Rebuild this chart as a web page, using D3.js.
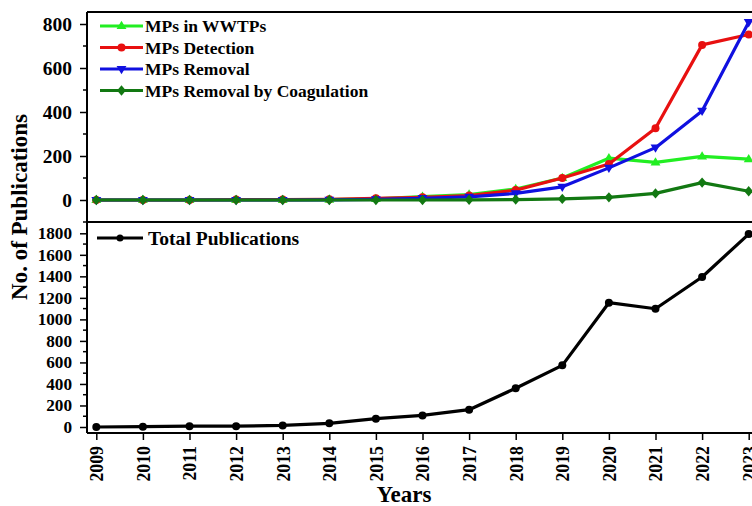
<!DOCTYPE html>
<html><head><meta charset="utf-8">
<script src="https://cdn.jsdelivr.net/npm/d3@7"></script>
<style>body{margin:0;background:#fff;} svg{display:block;}</style>
</head><body>
<svg id="c" width="752" height="506"></svg>
<script>
const years = [2009,2010,2011,2012,2013,2014,2015,2016,2017,2018,2019,2020,2021,2022,2023];
const mpsWWTPs    = [0,0,0,0,0,2,5,15,25,50,100,190,171,198,186];
const mpsDetection= [0,0,0,2,2,3,8,12,20,45,100,164,326,705,752];
const mpsRemoval  = [0,0,0,0,0,1,3,8,14,30,60,146,238,405,808];
const mpsCoag     = [0,0,0,0,0,0,0,0,1,2,5,12,30,79,40];
const totalPubs   = [0,3,8,8,15,34,77,108,161,360,573,1155,1099,1394,1793];
const topTicks = [0,200,400,600,800];
const bottomTicks = [0,200,400,600,800,1000,1200,1400,1600,1800];
const topSeries = [
  {name:"MPs in WWTPs", values:mpsWWTPs, color:"#22ee22", sym:"triangle"},
  {name:"MPs Detection", values:mpsDetection, color:"#e81010", sym:"circle"},
  {name:"MPs Removal", values:mpsRemoval, color:"#1010e0", sym:"tridown"},
  {name:"MPs Removal by Coagulation", values:mpsCoag, color:"#127812", sym:"diamond"}
];

const svg = d3.select("#c");
const font = "'Liberation Serif','Times New Roman',serif";
const left = 87, right = 800;
const x = d3.scaleLinear().domain([2009,2023]).range([96.3,748.7]);
const yT = d3.scaleLinear().domain([0,800]).range([200,24]);
const yB = d3.scaleLinear().domain([0,1800]).range([427,233.3]);
const topY0 = 12, midY = 222, botY = 433;

function marker(g, sym, cx, cy, color, s){
  if(sym==="circle"){
    g.append("circle").attr("cx",cx).attr("cy",cy).attr("r",s).attr("fill",color);
  } else {
    let pts;
    const r = s*1.3;
    if(sym==="triangle") pts=[[0,-r],[r*0.95,r*0.6],[-r*0.95,r*0.6]];
    else if(sym==="tridown") pts=[[0,r],[r*0.95,-r*0.6],[-r*0.95,-r*0.6]];
    else pts=[[0,-r],[r*0.85,0],[0,r],[-r*0.85,0]];
    g.append("polygon").attr("points",pts.map(p=>[cx+p[0],cy+p[1]].join(",")).join(" ")).attr("fill",color);
  }
}

// top panel series
const gT = svg.append("g");
const lineT = d3.line().x((d,i)=>x(years[i])).y(d=>yT(d));
topSeries.forEach(s=>{
  gT.append("path").attr("d",lineT(s.values)).attr("fill","none").attr("stroke",s.color).attr("stroke-width",3.2).attr("stroke-linejoin","round");
  s.values.forEach((v,i)=>marker(gT,s.sym,x(years[i]),yT(v),s.color,4));
});

// bottom panel series
const gB = svg.append("g");
const lineB = d3.line().x((d,i)=>x(years[i])).y(d=>yB(d));
gB.append("path").attr("d",lineB(totalPubs)).attr("fill","none").attr("stroke","#000").attr("stroke-width",3.2).attr("stroke-linejoin","round");
totalPubs.forEach((v,i)=>marker(gB,"circle",x(years[i]),yB(v),"#000",4));

// frame
svg.append("line").attr("x1",left).attr("x2",right).attr("y1",topY0).attr("y2",topY0).attr("stroke","#000").attr("stroke-width",2);
svg.append("line").attr("x1",left).attr("x2",right).attr("y1",midY).attr("y2",midY).attr("stroke","#000").attr("stroke-width",2);

// axes
const axT = d3.axisLeft(yT).tickValues(topTicks).tickFormat(d3.format("d")).tickSize(7).tickPadding(8);
const gAT = svg.append("g").attr("transform",`translate(${left},0)`).call(axT);
const minorT = d3.range(-100,850,100).filter(v=>!topTicks.includes(v));
svg.append("g").selectAll("line").data(minorT).join("line")
  .attr("x1",left-4).attr("x2",left).attr("y1",d=>yT(d)).attr("y2",d=>yT(d)).attr("stroke","#000").attr("stroke-width",1.5);
gAT.select(".domain").attr("d",`M0,${topY0}V${midY}`);

const axB = d3.axisLeft(yB).tickValues(bottomTicks).tickFormat(d3.format("d")).tickSize(7).tickPadding(8);
const gAB = svg.append("g").attr("transform",`translate(${left},0)`).call(axB);
const minorB = d3.range(100,1900,200);
svg.append("g").selectAll("line").data(minorB).join("line")
  .attr("x1",left-4).attr("x2",left).attr("y1",d=>yB(d)).attr("y2",d=>yB(d)).attr("stroke","#000").attr("stroke-width",1.5);
gAB.select(".domain").attr("d",`M0,${midY}V${botY}`);

const axX = d3.axisBottom(x).tickValues(years).tickFormat(d3.format("d")).tickSize(7).tickPadding(4);
const gAX = svg.append("g").attr("transform",`translate(0,${botY})`).call(axX);
gAX.select(".domain").attr("d",`M${left},0H${right}`);
gAX.selectAll("text").attr("transform","rotate(-90)").attr("x",-13).attr("y",0).attr("dy","0.36em").attr("text-anchor","end");

[gAT,gAB,gAX].forEach(g=>{
  g.selectAll(".domain").attr("stroke","#000").attr("stroke-width",2);
  g.selectAll(".tick line").attr("stroke","#000").attr("stroke-width",1.5);
  g.selectAll("text").attr("font-family",font).attr("font-weight","bold").attr("fill","#000");
});
gAT.selectAll("text").attr("font-size",19.5);
gAB.selectAll("text").attr("font-size",17.2);
gAX.selectAll("text").attr("font-size",17.8);

// legends
const legT = svg.append("g");
topSeries.forEach((s,i)=>{
  const cy = 26 + i*21.5;
  legT.append("line").attr("x1",100).attr("x2",143).attr("y1",cy).attr("y2",cy).attr("stroke",s.color).attr("stroke-width",3.2);
  marker(legT,s.sym,121.5,cy,s.color,4);
  legT.append("text").attr("x",145).attr("y",cy).attr("dy","0.35em").text(s.name)
    .attr("font-family",font).attr("font-weight","bold").attr("font-size",17.5);
});
const legB = svg.append("g");
legB.append("line").attr("x1",97).attr("x2",143).attr("y1",238).attr("y2",238).attr("stroke","#000").attr("stroke-width",3.2);
marker(legB,"circle",120,238,"#000",3.5);
legB.append("text").attr("x",148).attr("y",238).attr("dy","0.35em").text("Total Publications")
  .attr("font-family",font).attr("font-weight","bold").attr("font-size",19.6);

// titles
svg.append("text").attr("transform","translate(27,207) rotate(-90)").attr("text-anchor","middle")
  .attr("font-family",font).attr("font-weight","bold").attr("font-size",23).text("No. of Publications");
svg.append("text").attr("x",404).attr("y",502).attr("text-anchor","middle")
  .attr("font-family",font).attr("font-weight","bold").attr("font-size",23).text("Years");
</script>
</body></html>
